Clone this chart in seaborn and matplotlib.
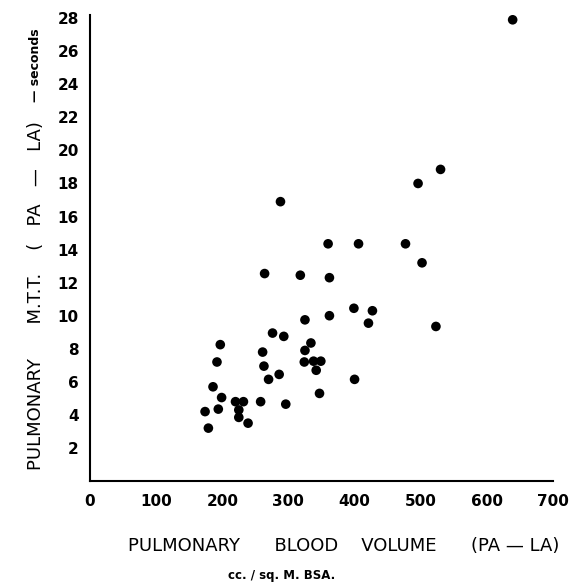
"""Scatter: pulmonary blood volume vs. mean transit time (PA-LA)."""
import matplotlib
matplotlib.use("Agg")
import matplotlib.pyplot as plt
import pandas as pd
import seaborn as sns

# values
blood_volume = [
    639, 530, 496, 288, 360, 406, 477, 502, 264, 318,
    362, 399, 427, 362, 325, 421, 523, 276, 293, 334,
    197, 261, 325, 192, 263, 324, 338, 349, 342, 270,
    286, 400, 347, 186, 199, 220, 232, 258, 296, 174,
    194, 225, 225, 239, 179,
]
transit_time = [
    27.9, 18.85, 18.0, 16.9, 14.35, 14.35, 14.35, 13.2, 12.55, 12.45,
    12.3, 10.45, 10.3, 10.0, 9.75, 9.55, 9.35, 8.95, 8.75, 8.35,
    8.25, 7.8, 7.9, 7.2, 6.95, 7.2, 7.25, 7.25, 6.7, 6.15,
    6.45, 6.15, 5.3, 5.7, 5.05, 4.8, 4.8, 4.8, 4.65, 4.2,
    4.35, 4.3, 3.85, 3.5, 3.2,
]
x_ticks = [0, 100, 200, 300, 400, 500, 600, 700]
y_ticks = [2, 4, 6, 8, 10, 12, 14, 16, 18, 20, 22, 24, 26, 28]

df = pd.DataFrame({"volume": blood_volume, "mtt": transit_time})

sns.set_style("white")
plt.rcParams["font.family"] = ["DejaVu Sans"]
plt.rcParams["text.color"] = "black"

fig = plt.figure(figsize=(5.79, 5.82), dpi=100)
ax = fig.add_axes([0.1554, 0.1735, 0.7997, 0.801])

sns.scatterplot(data=df, x="volume", y="mtt", color="black", s=48,
                edgecolor="none", ax=ax)

ax.set_xlim(0, 700)
ax.set_ylim(0, 28.2)
ax.set_xticks(x_ticks)
ax.set_yticks(y_ticks)
ax.set_xticklabels([str(t) for t in x_ticks], fontweight="bold", fontsize=11)
ax.set_yticklabels([str(t) for t in y_ticks], fontweight="bold", fontsize=11)
ax.tick_params(direction="in", length=4, width=1.3, colors="black")
ax.tick_params(axis="x", pad=9)
ax.tick_params(axis="y", pad=8)
ax.set_xlabel(""); ax.set_ylabel("")
for side in ["top", "right"]:
    ax.spines[side].set_visible(False)
for side in ["left", "bottom"]:
    ax.spines[side].set_linewidth(1.5)
    ax.spines[side].set_color("black")

# axis titles
fig.text(0.594, 0.062, "PULMONARY      BLOOD    VOLUME      (PA — LA)",
         ha="center", va="center", fontsize=13, color="black")
fig.text(0.487, 0.012, "cc. / sq. M. BSA.", ha="center", va="center",
         fontsize=8.5, fontweight="bold", color="black")
fig.text(0.063, 0.493, "PULMONARY      M.T.T.    (   PA   —   LA)",
         ha="center", va="center", rotation=90, fontsize=13, color="black")
fig.text(0.061, 0.888, "— seconds", ha="center", va="center", rotation=90,
         fontsize=9, fontweight="bold", color="black")

fig.savefig("out.png", dpi=100)
plt.close(fig)
